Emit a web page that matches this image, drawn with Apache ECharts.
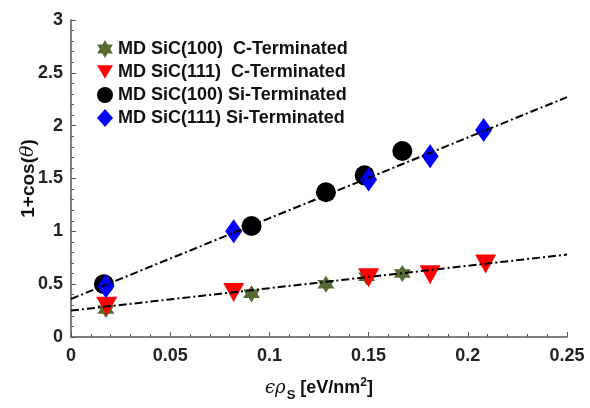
<!DOCTYPE html>
<html>
<head>
<meta charset="utf-8">
<script src="https://cdn.jsdelivr.net/npm/echarts@6/dist/echarts.min.js"></script>
<style>
  html, body { margin: 0; padding: 0; background: #fff; }
  #chart { width: 590px; height: 408px; }
</style>
</head>
<body>
<div id="chart"></div>
<script>
// values
const c100 = [[0.0176, 0.26], [0.091, 0.41], [0.1285, 0.50], [0.149, 0.57], [0.167, 0.60]]
const c111 = [[0.018, 0.29], [0.082, 0.42], [0.150, 0.56], [0.181, 0.59], [0.209, 0.69]]
const si100 = [[0.0166, 0.50], [0.091, 1.05], [0.1285, 1.37], [0.148, 1.53], [0.167, 1.76]]
const si111 = [[0.0176, 0.48], [0.082, 1.00], [0.150, 1.49], [0.181, 1.71], [0.208, 1.96]]
// fitted lines (end points)
const fitSi = [[0, 0.36], [0.25, 2.27]]
const fitC = [[0, 0.25], [0.25, 0.78]]

const names = ['MD SiC(100)  C-Terminated', 'MD SiC(111)  C-Terminated', 'MD SiC(100) Si-Terminated', 'MD SiC(111) Si-Terminated']
const star = 'path://M0,-10 L2.9,-5 L8.66,-5 L5.8,0 L8.66,5 L2.9,5 L0,10 L-2.9,5 L-8.66,5 L-5.8,0 L-8.66,-5 L-2.9,-5 Z'
const invTri = 'path://M-10,-8 L10,-8 L0,9 Z'

const chart = echarts.init(document.getElementById('chart'))
const font = 'Liberation Sans, Arial, sans-serif'

const fitStyle = { color: '#000', width: 2, type: [8, 3, 2, 3] }

chart.setOption({
  animation: false,
  textStyle: { fontFamily: font },
  grid: { left: 71, right: 23, top: 20, bottom: 71 },
  legend: {
    orient: 'vertical',
    left: 92,
    top: 35,
    itemWidth: 16,
    itemHeight: 18,
    itemGap: 5,
    textStyle: { fontSize: 18, fontWeight: 'bold', color: '#111', fontFamily: font },
    data: [
      { name: names[0], icon: star, itemStyle: { color: '#566b31' } },
      { name: names[1], icon: invTri, itemStyle: { color: '#ff0000' } },
      { name: names[2], icon: 'circle', itemStyle: { color: '#000' } },
      { name: names[3], icon: 'diamond', itemStyle: { color: '#0000ff' } }
    ]
  },
  xAxis: {
    type: 'value',
    min: 0, max: 0.25, interval: 0.05,
    axisLine: { lineStyle: { color: '#555', width: 1.5 } },
    axisTick: { inside: true, length: 5, lineStyle: { color: '#555' } },
    minorTick: { show: true, splitNumber: 5, length: 3, lineStyle: { color: '#555' } },
    splitLine: { show: false },
    axisLabel: { fontSize: 18, fontWeight: 'bold', color: '#222', margin: 10,
      formatter: v => String(Number(v.toFixed(2))) },
    name: '{it|ϵρ}{sub|S}{n| [eV/nm}{sup|2}{n|]}',
    nameLocation: 'middle',
    nameGap: 38,
    nameMoveOverlap: false,
    nameTextStyle: {
      rich: {
        it: { fontSize: 18, fontStyle: 'italic', fontFamily: 'DejaVu Serif', color: '#111' },
        sub: { fontSize: 13, fontWeight: 'bold', color: '#111', padding: [14, 0, 0, 1] },
        n: { fontSize: 18, fontWeight: 'bold', color: '#111' },
        sup: { fontSize: 12, fontWeight: 'bold', color: '#111', padding: [0, 0, 12, 0] }
      }
    }
  },
  yAxis: {
    type: 'value',
    min: 0, max: 3, interval: 0.5,
    axisLine: { show: true, lineStyle: { color: '#555', width: 1.5 } },
    axisTick: { show: true, inside: true, length: 5, lineStyle: { color: '#555' } },
    minorTick: { show: true, splitNumber: 5, length: 3, lineStyle: { color: '#555' } },
    splitLine: { show: false },
    axisLabel: { fontSize: 18, fontWeight: 'bold', color: '#222', margin: 8 },
    name: '{n|1+cos(}{it|θ}{n|)}',
    nameLocation: 'middle',
    nameGap: 33,
    nameMoveOverlap: false,
    nameRotate: 90,
    nameTextStyle: {
      rich: {
        n: { fontSize: 19, fontWeight: 'bold', color: '#111' },
        it: { fontSize: 19, fontStyle: 'italic', fontFamily: 'DejaVu Serif', color: '#111' }
      }
    }
  },
  series: [
    { name: names[0], type: 'scatter', data: c100, symbol: star, symbolSize: 17,
      itemStyle: { color: '#566b31', opacity: 1 }, z: 2 },
    { name: names[1], type: 'scatter', data: c111, symbol: invTri, symbolSize: [21, 19],
      itemStyle: { color: '#ff0000', opacity: 1 }, z: 3 },
    { name: names[2], type: 'scatter', data: si100, symbol: 'circle', symbolSize: 20,
      itemStyle: { color: '#000', opacity: 1 }, z: 4 },
    { name: names[3], type: 'scatter', data: si111, symbol: 'diamond', symbolSize: [17, 24],
      itemStyle: { color: '#0000ff', opacity: 1 }, z: 5 },
    { type: 'line', data: fitSi, symbol: 'none', lineStyle: fitStyle, z: 6, silent: true },
    { type: 'line', data: fitC, symbol: 'none', lineStyle: fitStyle, z: 6, silent: true }
  ]
})
</script>
</body>
</html>
